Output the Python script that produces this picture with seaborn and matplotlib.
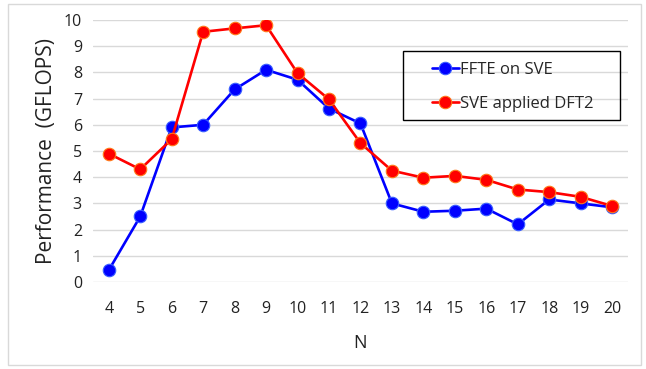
import matplotlib
matplotlib.use("Agg")
import matplotlib.pyplot as plt
import seaborn as sns
import pandas as pd
from matplotlib.patches import Rectangle

N = list(range(4, 21))
ffte_sve = [0.45, 2.5, 5.9, 6.0, 7.35, 8.1, 7.72, 6.62, 6.05, 3.0, 2.68, 2.72, 2.8, 2.2, 3.15, 3.0, 2.85]
sve_dft2 = [4.9, 4.3, 5.45, 9.55, 9.68, 9.8, 7.97, 6.97, 5.3, 4.25, 3.98, 4.05, 3.9, 3.53, 3.43, 3.25, 2.9]
series_names = ["FFTE on SVE", "SVE applied DFT2"]
yticks = list(range(0, 11))

df = pd.DataFrame({
    "N": N * 2,
    "Performance": ffte_sve + sve_dft2,
    "Series": [series_names[0]] * len(N) + [series_names[1]] * len(N),
})

sns.set_theme(style="white")
plt.rcParams["font.family"] = ["Open Sans", "DejaVu Sans"]

fig = plt.figure(figsize=(6.46, 3.69), dpi=100)
ax = fig.add_axes([0.144, 0.2358, 0.828, 0.71])

palette = {series_names[0]: "#0000ff", series_names[1]: "#ff0000"}
edge = ["#3a5fff", "#ff7a1a"]
sns.lineplot(data=df, x="N", y="Performance", hue="Series", palette=palette,
             marker="o", markersize=9, linewidth=1.9, ax=ax, legend=True)
for line, ec in zip(ax.lines, edge):
    line.set_markeredgecolor(ec)
    line.set_markeredgewidth(0.8)

ax.set_xlim(3.5, 20.5)
ax.set_ylim(0, 10)
ax.set_xticks(N)
ax.set_yticks(yticks)
ax.yaxis.grid(True, color="#d9d9d9", linewidth=1.0)
ax.xaxis.grid(False)
for s in ax.spines.values():
    s.set_visible(False)
ax.tick_params(axis="x", labelsize=11.5, pad=14, length=0, colors="#222222")
ax.tick_params(axis="y", labelsize=11.5, pad=8, length=0, colors="#222222")
ax.set_xlabel("N", fontsize=13, labelpad=12, color="#222222")
ax.set_ylabel("Performance  (GFLOPS)", fontsize=15, labelpad=5, color="#222222")

handles, labels = ax.get_legend_handles_labels()
for h, ec in zip(handles, edge):
    h.set_markeredgecolor(ec)
leg = ax.legend(handles, labels, loc="upper left", bbox_to_anchor=(0.634, 0.839),
                frameon=False, fontsize=12, handlelength=1.6,
                handletextpad=0.1, labelspacing=1.08, borderpad=0, borderaxespad=0)
ax.add_patch(Rectangle((0.579, 0.618), 0.406, 0.264, transform=ax.transAxes,
                       fill=False, edgecolor="black", linewidth=1.0, zorder=5))

fig.patches.append(Rectangle((0.012, 0.01), 0.98, 0.98, transform=fig.transFigure,
                             fill=False, edgecolor="#d9d9d9", linewidth=1.0))

fig.savefig("out.png", dpi=100)
